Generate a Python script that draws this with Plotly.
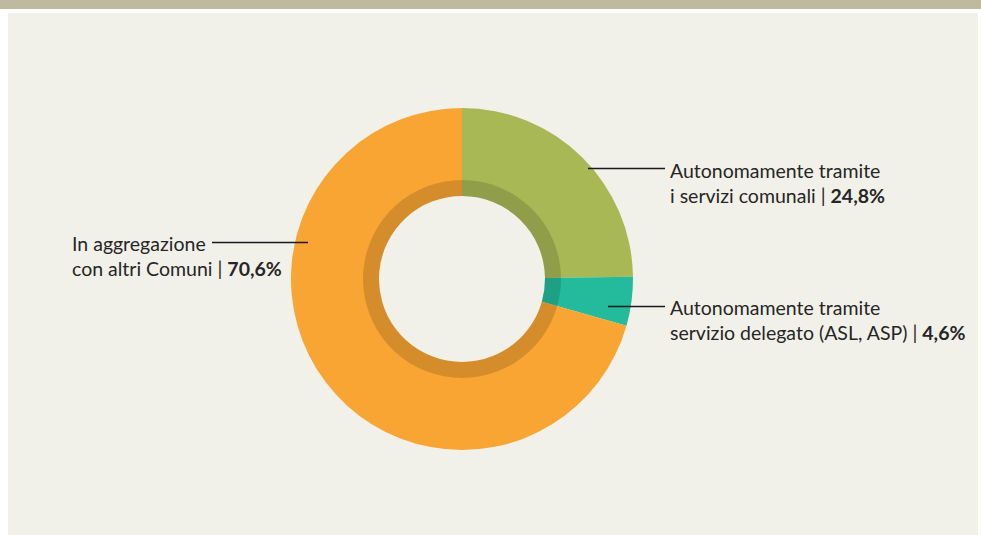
import plotly.graph_objects as go

# Data
labels = ["Autonomamente tramite i servizi comunali",
          "Autonomamente tramite servizio delegato (ASL, ASP)",
          "In aggregazione con altri Comuni"]
values = [24.8, 4.6, 70.6]
colors = ["#a8b855", "#23bb9b", "#f9a533"]

W, H = 981, 535
cx, cy = 462, 279      # pie centre in px (from top)
R_out, R_ring, R_hole = 171, 99, 83

def dom(r):
    return dict(x=[(cx - r) / W, (cx + r) / W],
                y=[(H - cy - r) / H, (H - cy + r) / H])

fig = go.Figure()
fig.add_trace(go.Pie(labels=labels, values=values, sort=False, direction="clockwise",
                     rotation=0, hole=R_hole / R_out, domain=dom(R_out),
                     marker=dict(colors=colors, line=dict(width=0)),
                     textinfo="none", hoverinfo="label+percent", showlegend=False))
fig.add_trace(go.Pie(labels=labels, values=values, sort=False, direction="clockwise",
                     rotation=0, hole=R_hole / R_ring, domain=dom(R_ring),
                     marker=dict(colors=["rgba(0,0,0,0.14)"] * 3, line=dict(width=0)),
                     textinfo="none", hoverinfo="skip", showlegend=False))

def px(x): return x / W
def py(y): return 1 - y / H

line_style = dict(color="#1a1a1a", width=1.4)
shapes = [
    dict(type="rect", xref="paper", yref="paper", x0=px(0), x1=px(W), y0=py(0), y1=py(9),
         fillcolor="#bdba9f", line=dict(width=0), layer="below"),
    dict(type="rect", xref="paper", yref="paper", x0=px(8), x1=px(978), y0=py(13), y1=py(H),
         fillcolor="#f2f1e9", line=dict(width=0), layer="below"),
    dict(type="line", xref="paper", yref="paper", x0=px(588), x1=px(665), y0=py(168.5), y1=py(168.5),
         line=line_style),
    dict(type="line", xref="paper", yref="paper", x0=px(608), x1=px(665), y0=py(306.5), y1=py(306.5),
         line=line_style),
    dict(type="line", xref="paper", yref="paper", x0=px(212), x1=px(308), y0=py(242.5), y1=py(242.5),
         line=line_style),
]

font = dict(family="Lato, Open Sans, sans-serif", size=19.5, color="#262626")
ann_text = [
    ("Autonomamente tramite<br>i servizi comunali | <b>24,8%</b>", 668, 183),
    ("Autonomamente tramite<br>servizio delegato (ASL, ASP) | <b>4,6%</b>", 668, 320),
    ("In aggregazione<br>con altri Comuni | <b>70,6%</b>", 70, 256),
]
annotations = [dict(text=t, x=px(x), y=py(y), xref="paper", yref="paper",
                    xanchor="left", yanchor="middle", align="left", showarrow=False, font=font)
               for t, x, y in ann_text]

fig.update_layout(width=W, height=H, margin=dict(l=0, r=0, t=0, b=0),
                  paper_bgcolor="#ffffff", plot_bgcolor="#ffffff",
                  shapes=shapes, annotations=annotations)
fig.write_html("out.html", config={"displayModeBar": False},
               post_script="document.body.style.margin='0';document.body.style.overflow='hidden';")
